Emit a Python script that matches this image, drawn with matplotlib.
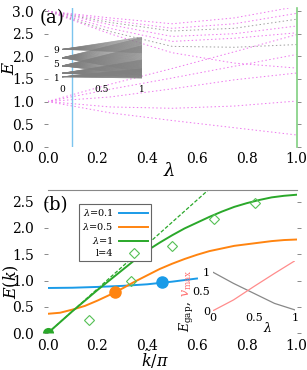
import numpy as np
import matplotlib
matplotlib.use("Agg")
import matplotlib.pyplot as plt

plt.rcParams['font.family'] = ['DejaVu Serif']
plt.rcParams['mathtext.fontset'] = 'dejavuserif'

# ---- panel (a): levels E(lambda), read at these lambda points
lam_pts = [0.0, 0.25, 0.5, 0.75, 1.0]
levels_from_3 = [
    [3.0, 2.85, 2.72, 2.85, 3.10],
    [3.0, 2.80, 2.62, 2.72, 2.95],
    [3.0, 2.75, 2.56, 2.62, 2.82],
    [3.0, 2.70, 2.44, 2.50, 2.67],
    [3.0, 2.62, 2.33, 2.40, 2.52],
    [3.0, 2.55, 2.22, 2.20, 2.26],
    [3.0, 2.50, 2.08, 1.85, 1.74],
]
colors_from_3 = ['m', 'm', 'g', 'm', 'm', 'g', 'm']
levels_from_1 = [
    [1.0, 1.38, 1.73, 2.10, 2.48],
    [1.0, 1.27, 1.52, 1.78, 2.04],
    [1.0, 1.10, 1.28, 1.48, 1.63],
    [1.0, 0.88, 0.85, 0.90, 1.01],
    [1.0, 0.75, 0.58, 0.42, 0.26],
]
lam_cut_small = 0.1
lam_cut_big = 1.0

# inset (a): fan of levels (start level, lowest/highest end level, lines)
fan_start = [1.2, 2.2, 4.3, 6.6, 9.0]
fan_end_lo = [0.8, 1.0, 1.5, 2.5, 8.0]
fan_end_hi = [3.5, 6.0, 10.0, 12.3, 12.5]
fan_count = [25, 30, 35, 35, 20]

# ---- panel (b): dispersion
k_blue = [0.0, 0.1, 0.2, 0.3, 0.4, 0.5, 0.6]
E_blue = [0.86, 0.865, 0.88, 0.90, 0.93, 0.98, 1.04]
k_curve = [0.0, 0.05, 0.1, 0.15, 0.2, 0.25, 0.3, 0.35, 0.4, 0.45, 0.5,
           0.55, 0.6, 0.65, 0.7, 0.75, 0.8, 0.85, 0.9, 0.95, 1.0]
E_orange = [0.37, 0.39, 0.45, 0.52, 0.62, 0.73, 0.85, 0.98, 1.10, 1.22, 1.32,
            1.41, 1.49, 1.56, 1.61, 1.66, 1.69, 1.72, 1.75, 1.77, 1.78]
E_green = [0.0, 0.21, 0.42, 0.62, 0.82, 1.01, 1.20, 1.39, 1.57, 1.72, 1.86,
           1.99, 2.10, 2.21, 2.31, 2.40, 2.47, 2.53, 2.58, 2.61, 2.63]
k_dash = [0.0, 0.7]
E_dash = [0.0, 2.95]
k_l4 = [1/6, 2/6, 3/6, 4/6, 5/6]
E_l4 = [0.25, 0.99, 1.65, 2.16, 2.47]
dot_k = [0.458, 0.27, 0.0]
dot_E = [0.965, 0.78, 0.0]

# inset (b)
lam_in = [0.0, 0.25, 0.5, 0.75, 1.0]
E_gap = [1.0, 0.71, 0.45, 0.19, 0.02]
v_max = [0.0, 0.28, 0.63, 0.97, 1.30]

c_blue = '#1a9be8'
c_orange = '#ff8410'
c_green = '#2aa82a'
c_mag = '#ee77ee'
c_gray = '#a0a0a0'

fig = plt.figure(figsize=(3.07, 3.70), dpi=100)


def style_ticks(ax, size):
    for s in ax.spines.values():
        s.set_visible(False)
    ax.tick_params(axis='y', which='both', direction='out', length=3, width=0.6,
                   color='#777777', pad=7, labelsize=size, right=True)
    ax.tick_params(axis='x', which='both', direction='out', length=0, pad=4,
                   labelsize=size)


# ================= panel (a)
ax_a = fig.add_axes([0.155, 0.6035, 0.811, 0.375])
for lev, c in zip(levels_from_3, colors_from_3):
    ax_a.plot(lam_pts, lev, color=c_mag if c == 'm' else c_gray,
              lw=0.7, ls=(0, (1.5, 2.5)))
for lev in levels_from_1:
    ax_a.plot(lam_pts, lev, color=c_mag, lw=0.7, ls=(0, (1.5, 2.5)))
ax_a.axvline(lam_cut_small, color='#7cc4ee', lw=1.0)
ax_a.axvline(lam_cut_big, color='#80d080', lw=1.2, clip_on=False)
ax_a.set_xlim(0, 1.0)
ax_a.set_ylim(0, 3.07)
ax_a.set_xticks([0.0, 0.2, 0.4, 0.6, 0.8, 1.0])
ax_a.set_yticks([0.0, 0.5, 1.0, 1.5, 2.0, 2.5, 3.0])
ax_a.set_xticklabels(['0.0', '0.2', '0.4', '0.6', '0.8', '1.0'])
ax_a.set_yticklabels(['0.0', '0.5', '1.0', '1.5', '2.0', '2.5', '3.0'])
style_ticks(ax_a, 10)
fig.text(169 / 307, 1 - 171 / 370, r'$\lambda$', fontsize=13, ha='center', va='center')
fig.text(9 / 307, 1 - 68 / 370, r'$E$', fontsize=12, ha='center', va='center',
         rotation=90)
fig.text(52 / 307, 1 - 18 / 370, '(a)', fontsize=13, ha='center', va='center')

# inset (a)
ax_ai = fig.add_axes([62 / 307, 1 - 82 / 370, 80 / 307, 45 / 370])
ax_ai.patch.set_alpha(0)
for b, lo, hi, n in zip(fan_start, fan_end_lo, fan_end_hi, fan_count):
    for e in np.linspace(lo, hi, n):
        ax_ai.plot([0, 1], [b, e], color='#808080', lw=0.45, alpha=0.8)
ax_ai.set_xlim(0, 1)
ax_ai.set_ylim(-0.28, 12.5)
ax_ai.set_xticks([0, 0.5, 1])
ax_ai.set_xticklabels(['0', '0.5', '1'])
ax_ai.set_yticks([1, 5, 9])
ax_ai.set_yticklabels(['1', '5', '9'])
for s in ax_ai.spines.values():
    s.set_visible(False)
ax_ai.tick_params(labelsize=6.5, length=0, pad=2)

# ================= panel (b)
ax_b = fig.add_axes([0.155, 0.0992, 0.811, 0.3873])
ax_b.plot(k_dash, E_dash, color=c_green, lw=0.9, ls=(0, (3, 1.5)))
ax_b.plot(k_blue, E_blue, color=c_blue, lw=1.4, label=r'$\lambda$=0.1')
ax_b.plot(k_curve, E_orange, color=c_orange, lw=1.4, label=r'$\lambda$=0.5')
ax_b.plot(k_curve, E_green, color=c_green, lw=1.4, label=r'$\lambda$=1')
ax_b.plot(k_l4, E_l4, ls='none', marker='D', ms=5, mfc='none', mec='#55c055',
          mew=0.8, label='l=4')
ax_b.plot(dot_k[0], dot_E[0], 'o', color=c_blue, ms=8, zorder=5)
ax_b.plot(dot_k[1], dot_E[1], 'o', color=c_orange, ms=8, zorder=5)
ax_b.plot(dot_k[2], dot_E[2], 'o', color=c_green, ms=8, fillstyle='top',
          markeredgewidth=0, clip_on=False, zorder=5)
ax_b.set_xlim(0, 1.0)
ax_b.set_ylim(0, 2.72)
ax_b.set_xticks([0.0, 0.2, 0.4, 0.6, 0.8, 1.0])
ax_b.set_yticks([0.0, 0.5, 1.0, 1.5, 2.0, 2.5])
ax_b.set_xticklabels(['0.0', '0.2', '0.4', '0.6', '0.8', '1.0'])
ax_b.set_yticklabels(['0.0', '0.5', '1.0', '1.5', '2.0', '2.5'])
style_ticks(ax_b, 10)
ax_b.spines['top'].set_visible(True)
ax_b.spines['top'].set_color('#888888')
ax_b.spines['top'].set_linewidth(0.8)
fig.text(155 / 307, 1 - 360 / 370, r'$\tilde{k}/\pi$', fontsize=11.5, ha='center',
         va='center')
fig.text(10 / 307, 1 - 282 / 370, r'$E(\tilde{k})$', fontsize=11.5, ha='center',
         va='center', rotation=90)
fig.text(55 / 307, 1 - 205 / 370, '(b)', fontsize=13, ha='center', va='center')

leg = ax_b.legend(loc='upper left', bbox_to_anchor=(74 / 307, 1 - 199 / 370),
                  bbox_transform=fig.transFigure, fontsize=7, markerfirst=False,
                  fancybox=False, edgecolor='#666666', framealpha=1,
                  handlelength=2.9, borderpad=0.35, labelspacing=0.3,
                  handletextpad=0.6)
leg.get_frame().set_linewidth(0.8)

# inset (b)
ax_bi = fig.add_axes([213 / 307, 1 - 310.7 / 370, 82 / 307, 50 / 370])
ax_bi.patch.set_alpha(0)
ax_bi.plot(lam_in, E_gap, color='#888888', lw=0.9)
ax_bi.plot(lam_in, v_max, color='#ff8c8c', lw=0.9)
ax_bi.set_xlim(0, 1)
ax_bi.set_ylim(0, 1.3)
ax_bi.set_xticks([0, 0.5, 1])
ax_bi.set_xticklabels(['0', '0.5', '1'])
ax_bi.set_yticks([0, 0.5, 1])
ax_bi.set_yticklabels(['0', '0.5', '1'])
for s in ax_bi.spines.values():
    s.set_visible(False)
ax_bi.tick_params(labelsize=8, length=0, pad=2)
fig.text(268 / 307, 1 - 328 / 370, r'$\lambda$', fontsize=9, ha='center', va='center')
fig.text(187 / 307, 1 - 317 / 370, r'$E_{\rm gap}$,', fontsize=9, ha='center',
         va='center', rotation=90)
fig.text(187 / 307, 1 - 283 / 370, r'$v_{\rm max}$', fontsize=9, ha='center',
         va='center', rotation=90, color='#ff7070')

fig.savefig('out.png', dpi=100)
